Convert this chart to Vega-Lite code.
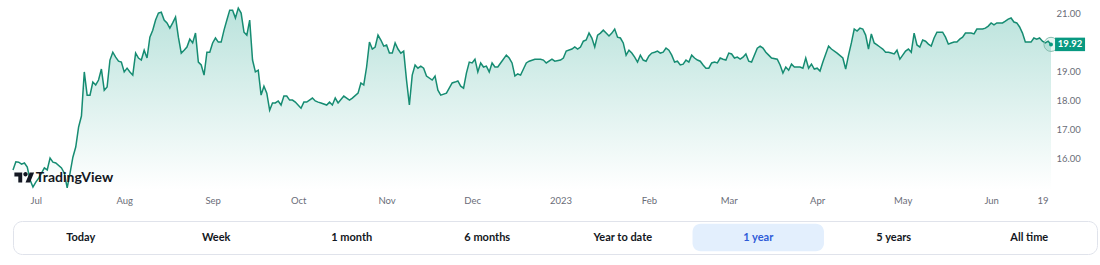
{
  "$schema": "https://vega.github.io/schema/vega-lite/v6.json",
  "padding": {"left": 10, "top": 0, "right": 0, "bottom": 0},
  "background": "white",
  "spacing": 15,
  "config": {"view": {"stroke": null}, "font": "Lato", "axis": {"labelFont": "Lato"}},
  "datasets": {
    "prices": [
      {"d":"2022-06-23","p":15.59},{"d":"2022-06-24","p":15.87},{"d":"2022-06-25","p":15.86},{"d":"2022-06-26","p":15.79},{"d":"2022-06-27","p":15.83},{"d":"2022-06-28","p":15.69},{"d":"2022-06-29","p":15.24},{"d":"2022-06-30","p":15.00},
      {"d":"2022-07-01","p":15.17},{"d":"2022-07-02","p":15.31},{"d":"2022-07-03","p":15.48},{"d":"2022-07-04","p":15.66},{"d":"2022-07-05","p":15.59},{"d":"2022-07-06","p":16.00},{"d":"2022-07-07","p":15.86},{"d":"2022-07-08","p":15.83},{"d":"2022-07-10","p":15.66},{"d":"2022-07-11","p":15.48},{"d":"2022-07-12","p":14.97},{"d":"2022-07-13","p":15.48},{"d":"2022-07-14","p":16.03},{"d":"2022-07-15","p":16.38},{"d":"2022-07-16","p":17.07},{"d":"2022-07-17","p":17.45},{"d":"2022-07-18","p":18.97},{"d":"2022-07-19","p":18.17},{"d":"2022-07-20","p":18.17},{"d":"2022-07-21","p":18.62},{"d":"2022-07-22","p":18.52},{"d":"2022-07-23","p":18.69},{"d":"2022-07-24","p":19.07},{"d":"2022-07-25","p":18.34},{"d":"2022-07-26","p":18.45},{"d":"2022-07-27","p":19.38},{"d":"2022-07-28","p":19.65},{"d":"2022-07-29","p":19.48},{"d":"2022-07-30","p":19.34},{"d":"2022-07-31","p":19.31},
      {"d":"2022-08-01","p":18.97},{"d":"2022-08-02","p":19.10},{"d":"2022-08-03","p":18.97},{"d":"2022-08-04","p":18.86},{"d":"2022-08-05","p":19.62},{"d":"2022-08-06","p":19.45},{"d":"2022-08-07","p":19.38},{"d":"2022-08-08","p":19.72},{"d":"2022-08-09","p":19.45},{"d":"2022-08-10","p":20.17},{"d":"2022-08-11","p":20.41},{"d":"2022-08-12","p":20.76},{"d":"2022-08-13","p":21.00},{"d":"2022-08-14","p":21.03},{"d":"2022-08-15","p":20.76},{"d":"2022-08-16","p":20.66},{"d":"2022-08-17","p":20.48},{"d":"2022-08-18","p":20.66},{"d":"2022-08-19","p":20.86},{"d":"2022-08-20","p":20.17},{"d":"2022-08-21","p":19.62},{"d":"2022-08-22","p":19.72},{"d":"2022-08-23","p":19.83},{"d":"2022-08-24","p":20.10},{"d":"2022-08-25","p":19.97},{"d":"2022-08-26","p":20.31},{"d":"2022-08-27","p":19.31},{"d":"2022-08-28","p":19.21},{"d":"2022-08-29","p":18.86},{"d":"2022-08-30","p":19.65},{"d":"2022-08-31","p":19.65},
      {"d":"2022-09-01","p":19.97},{"d":"2022-09-02","p":20.14},{"d":"2022-09-03","p":20.00},{"d":"2022-09-04","p":20.00},{"d":"2022-09-05","p":20.41},{"d":"2022-09-06","p":20.76},{"d":"2022-09-07","p":21.10},{"d":"2022-09-08","p":21.10},{"d":"2022-09-09","p":20.83},{"d":"2022-09-10","p":21.17},{"d":"2022-09-11","p":21.00},{"d":"2022-09-12","p":20.34},{"d":"2022-09-13","p":20.24},{"d":"2022-09-14","p":20.76},{"d":"2022-09-15","p":19.38},{"d":"2022-09-16","p":18.97},{"d":"2022-09-17","p":19.03},{"d":"2022-09-18","p":18.17},{"d":"2022-09-19","p":18.48},{"d":"2022-09-20","p":18.24},{"d":"2022-09-21","p":17.65},{"d":"2022-09-22","p":17.90},{"d":"2022-09-23","p":17.90},{"d":"2022-09-24","p":17.97},{"d":"2022-09-25","p":17.83},{"d":"2022-09-26","p":18.14},{"d":"2022-09-27","p":18.14},{"d":"2022-09-28","p":18.00},{"d":"2022-09-29","p":18.00},{"d":"2022-09-30","p":17.93},
      {"d":"2022-10-02","p":17.72},{"d":"2022-10-03","p":17.93},{"d":"2022-10-04","p":17.93},{"d":"2022-10-06","p":18.07},{"d":"2022-10-07","p":17.97},{"d":"2022-10-08","p":17.93},{"d":"2022-10-09","p":17.90},{"d":"2022-10-11","p":17.83},{"d":"2022-10-12","p":17.93},{"d":"2022-10-13","p":17.83},{"d":"2022-10-14","p":18.07},{"d":"2022-10-15","p":17.90},{"d":"2022-10-17","p":18.14},{"d":"2022-10-18","p":18.07},{"d":"2022-10-19","p":18.00},{"d":"2022-10-20","p":18.07},{"d":"2022-10-22","p":18.24},{"d":"2022-10-23","p":18.59},{"d":"2022-10-24","p":18.52},{"d":"2022-10-25","p":19.14},{"d":"2022-10-26","p":20.00},{"d":"2022-10-27","p":19.76},{"d":"2022-10-28","p":19.83},{"d":"2022-10-29","p":20.24},{"d":"2022-10-30","p":20.07},{"d":"2022-10-31","p":19.86},
      {"d":"2022-11-01","p":19.90},{"d":"2022-11-02","p":19.62},{"d":"2022-11-03","p":19.62},{"d":"2022-11-04","p":19.97},{"d":"2022-11-05","p":19.76},{"d":"2022-11-06","p":19.62},{"d":"2022-11-07","p":19.69},{"d":"2022-11-08","p":18.69},{"d":"2022-11-09","p":17.83},{"d":"2022-11-10","p":18.86},{"d":"2022-11-11","p":19.21},{"d":"2022-11-12","p":19.10},{"d":"2022-11-13","p":19.17},{"d":"2022-11-14","p":19.10},{"d":"2022-11-15","p":18.83},{"d":"2022-11-17","p":18.69},{"d":"2022-11-18","p":18.83},{"d":"2022-11-19","p":18.34},{"d":"2022-11-20","p":18.17},{"d":"2022-11-22","p":18.24},{"d":"2022-11-24","p":18.59},{"d":"2022-11-25","p":18.62},{"d":"2022-11-26","p":18.66},{"d":"2022-11-27","p":18.48},{"d":"2022-11-28","p":18.41},{"d":"2022-11-29","p":18.93},{"d":"2022-11-30","p":19.31},
      {"d":"2022-12-01","p":19.28},{"d":"2022-12-02","p":19.41},{"d":"2022-12-03","p":18.97},{"d":"2022-12-04","p":19.28},{"d":"2022-12-05","p":19.14},{"d":"2022-12-06","p":19.17},{"d":"2022-12-07","p":18.97},{"d":"2022-12-08","p":19.28},{"d":"2022-12-09","p":19.14},{"d":"2022-12-10","p":19.14},{"d":"2022-12-11","p":19.28},{"d":"2022-12-13","p":19.55},{"d":"2022-12-14","p":19.45},{"d":"2022-12-15","p":19.28},{"d":"2022-12-16","p":18.83},{"d":"2022-12-17","p":18.90},{"d":"2022-12-18","p":18.86},{"d":"2022-12-19","p":19.07},{"d":"2022-12-20","p":19.28},{"d":"2022-12-21","p":19.34},{"d":"2022-12-23","p":19.41},{"d":"2022-12-25","p":19.41},{"d":"2022-12-26","p":19.38},{"d":"2022-12-27","p":19.28},{"d":"2022-12-29","p":19.41},{"d":"2022-12-30","p":19.34},
      {"d":"2023-01-01","p":19.38},{"d":"2023-01-02","p":19.45},{"d":"2023-01-03","p":19.69},{"d":"2023-01-05","p":19.76},{"d":"2023-01-06","p":19.83},{"d":"2023-01-07","p":19.76},{"d":"2023-01-08","p":19.83},{"d":"2023-01-09","p":20.03},{"d":"2023-01-10","p":20.07},{"d":"2023-01-11","p":20.31},{"d":"2023-01-12","p":20.14},{"d":"2023-01-13","p":19.83},{"d":"2023-01-14","p":20.24},{"d":"2023-01-15","p":20.31},{"d":"2023-01-16","p":20.41},{"d":"2023-01-17","p":20.31},{"d":"2023-01-18","p":20.21},{"d":"2023-01-19","p":20.31},{"d":"2023-01-20","p":20.45},{"d":"2023-01-21","p":20.17},{"d":"2023-01-22","p":20.14},{"d":"2023-01-23","p":19.97},{"d":"2023-01-24","p":19.55},{"d":"2023-01-25","p":19.72},{"d":"2023-01-26","p":19.62},{"d":"2023-01-27","p":19.48},{"d":"2023-01-28","p":19.31},{"d":"2023-01-29","p":19.55},{"d":"2023-01-30","p":19.38},{"d":"2023-01-31","p":19.34},
      {"d":"2023-02-01","p":19.52},{"d":"2023-02-02","p":19.62},{"d":"2023-02-03","p":19.65},{"d":"2023-02-04","p":19.69},{"d":"2023-02-05","p":19.62},{"d":"2023-02-06","p":19.65},{"d":"2023-02-07","p":19.79},{"d":"2023-02-08","p":19.72},{"d":"2023-02-09","p":19.55},{"d":"2023-02-10","p":19.31},{"d":"2023-02-11","p":19.34},{"d":"2023-02-12","p":19.21},{"d":"2023-02-13","p":19.24},{"d":"2023-02-14","p":19.38},{"d":"2023-02-15","p":19.31},{"d":"2023-02-16","p":19.55},{"d":"2023-02-17","p":19.45},{"d":"2023-02-18","p":19.38},{"d":"2023-02-19","p":19.34},{"d":"2023-02-20","p":19.21},{"d":"2023-02-21","p":19.10},{"d":"2023-02-22","p":19.10},{"d":"2023-02-23","p":19.28},{"d":"2023-02-24","p":19.31},{"d":"2023-02-25","p":19.28},{"d":"2023-02-26","p":19.45},{"d":"2023-02-27","p":19.41},{"d":"2023-02-28","p":19.38},
      {"d":"2023-03-01","p":19.62},{"d":"2023-03-02","p":19.59},{"d":"2023-03-03","p":19.45},{"d":"2023-03-04","p":19.48},{"d":"2023-03-05","p":19.41},{"d":"2023-03-06","p":19.48},{"d":"2023-03-07","p":19.59},{"d":"2023-03-08","p":19.34},{"d":"2023-03-09","p":19.31},{"d":"2023-03-11","p":19.79},{"d":"2023-03-12","p":19.86},{"d":"2023-03-13","p":19.79},{"d":"2023-03-14","p":19.65},{"d":"2023-03-15","p":19.55},{"d":"2023-03-16","p":19.45},{"d":"2023-03-18","p":19.41},{"d":"2023-03-19","p":19.21},{"d":"2023-03-20","p":18.93},{"d":"2023-03-21","p":19.14},{"d":"2023-03-22","p":19.03},{"d":"2023-03-23","p":19.24},{"d":"2023-03-24","p":19.14},{"d":"2023-03-26","p":19.14},{"d":"2023-03-27","p":19.10},{"d":"2023-03-28","p":19.45},{"d":"2023-03-29","p":19.10},{"d":"2023-03-30","p":19.24},{"d":"2023-03-31","p":19.07},
      {"d":"2023-04-01","p":19.10},{"d":"2023-04-02","p":19.00},{"d":"2023-04-03","p":19.31},{"d":"2023-04-05","p":19.86},{"d":"2023-04-06","p":19.76},{"d":"2023-04-08","p":19.62},{"d":"2023-04-10","p":19.45},{"d":"2023-04-11","p":19.07},{"d":"2023-04-12","p":19.55},{"d":"2023-04-13","p":19.97},{"d":"2023-04-14","p":20.45},{"d":"2023-04-15","p":20.38},{"d":"2023-04-16","p":20.48},{"d":"2023-04-17","p":20.45},{"d":"2023-04-18","p":20.24},{"d":"2023-04-19","p":19.76},{"d":"2023-04-20","p":20.28},{"d":"2023-04-21","p":19.97},{"d":"2023-04-22","p":19.90},{"d":"2023-04-23","p":19.83},{"d":"2023-04-24","p":19.76},{"d":"2023-04-25","p":19.65},{"d":"2023-04-26","p":19.65},{"d":"2023-04-27","p":19.62},{"d":"2023-04-28","p":19.59},{"d":"2023-04-29","p":19.72},{"d":"2023-04-30","p":19.41},
      {"d":"2023-05-01","p":19.55},{"d":"2023-05-02","p":19.69},{"d":"2023-05-03","p":19.76},{"d":"2023-05-04","p":19.65},{"d":"2023-05-05","p":20.31},{"d":"2023-05-06","p":19.90},{"d":"2023-05-07","p":19.83},{"d":"2023-05-08","p":20.07},{"d":"2023-05-09","p":20.03},{"d":"2023-05-10","p":19.93},{"d":"2023-05-11","p":19.86},{"d":"2023-05-12","p":20.14},{"d":"2023-05-13","p":20.34},{"d":"2023-05-15","p":20.34},{"d":"2023-05-16","p":20.17},{"d":"2023-05-17","p":19.93},{"d":"2023-05-18","p":19.97},{"d":"2023-05-19","p":20.00},{"d":"2023-05-20","p":20.00},{"d":"2023-05-21","p":20.10},{"d":"2023-05-22","p":20.17},{"d":"2023-05-23","p":20.31},{"d":"2023-05-24","p":20.31},{"d":"2023-05-25","p":20.31},{"d":"2023-05-26","p":20.28},{"d":"2023-05-27","p":20.45},{"d":"2023-05-29","p":20.45},{"d":"2023-05-30","p":20.48},{"d":"2023-05-31","p":20.55},
      {"d":"2023-06-01","p":20.66},{"d":"2023-06-02","p":20.59},{"d":"2023-06-03","p":20.66},{"d":"2023-06-05","p":20.66},{"d":"2023-06-06","p":20.72},{"d":"2023-06-07","p":20.79},{"d":"2023-06-08","p":20.83},{"d":"2023-06-09","p":20.69},{"d":"2023-06-10","p":20.66},{"d":"2023-06-11","p":20.52},{"d":"2023-06-12","p":20.31},{"d":"2023-06-13","p":20.00},{"d":"2023-06-15","p":20.00},{"d":"2023-06-16","p":20.14},{"d":"2023-06-17","p":20.10},{"d":"2023-06-18","p":20.14},{"d":"2023-06-19","p":20.03},{"d":"2023-06-20","p":19.97},{"d":"2023-06-21","p":20.03},{"d":"2023-06-22","p":19.92}
    ],
    "buttons": [
      {"label":"Today","active":false},{"label":"Week","active":false},{"label":"1 month","active":false},{"label":"6 months","active":false},
      {"label":"Year to date","active":false},{"label":"1 year","active":true},{"label":"5 years","active":false},{"label":"All time","active":false}
    ]
  },
  "vconcat": [
    {
      "width": 1038,
      "height": 190,
      "data": {"name": "prices"},
      "encoding": {
        "x": {
          "field": "d", "type": "temporal",
          "scale": {"type": "utc", "domain": [{"year":2022,"month":6,"date":23,"utc":true},{"year":2023,"month":6,"date":22,"utc":true}]},
          "axis": {
            "title": null, "grid": false, "ticks": false, "domain": false,
            "labelPadding": 5, "labelFontSize": 9.5, "labelColor": "#6a6d78",
            "labelFlush": false, "labelOverlap": false,
            "values": [
              {"year":2022,"month":7,"date":1,"utc":true},{"year":2022,"month":8,"date":1,"utc":true},{"year":2022,"month":9,"date":1,"utc":true},
              {"year":2022,"month":10,"date":1,"utc":true},{"year":2022,"month":11,"date":1,"utc":true},{"year":2022,"month":12,"date":1,"utc":true},
              {"year":2023,"month":1,"date":1,"utc":true},{"year":2023,"month":2,"date":1,"utc":true},{"year":2023,"month":3,"date":1,"utc":true},
              {"year":2023,"month":4,"date":1,"utc":true},{"year":2023,"month":5,"date":1,"utc":true},{"year":2023,"month":6,"date":1,"utc":true},
              {"year":2023,"month":6,"date":19,"utc":true}
            ],
            "labelExpr": "utcdate(datum.value) != 1 ? utcFormat(datum.value, '%-d') : (utcmonth(datum.value) == 0 ? utcFormat(datum.value, '%Y') : utcFormat(datum.value, '%b'))"
          }
        },
        "y": {
          "field": "p", "type": "quantitative",
          "scale": {"domain": [14.9, 21.45], "nice": false, "zero": false},
          "axis": {
            "orient": "right", "title": null, "grid": false, "ticks": false, "domain": false,
            "values": [16, 17, 18, 19, 21], "format": ".2f",
            "labelPadding": 5, "labelFontSize": 9.5, "labelColor": "#6a6d78"
          }
        }
      },
      "layer": [
        {
          "mark": {
            "type": "area",
            "color": {"gradient": "linear", "x1": 0, "y1": 0, "x2": 0, "y2": 1,
              "stops": [{"offset": 0, "color": "rgba(8,153,129,0.28)"}, {"offset": 1, "color": "rgba(8,153,129,0.0)"}]}
          },
          "encoding": {"y2": {"datum": 14.9}}
        },
        {"mark": {"type": "line", "color": "#168c72", "strokeWidth": 1.5}},
        {
          "transform": [{"filter": "time(datum.d) == utc(2023,5,22)"}],
          "mark": {"type": "point", "shape": "circle", "filled": true, "size": 200, "fill": "#089981", "fillOpacity": 0.1, "stroke": "#7fb8aa", "strokeWidth": 1, "strokeOpacity": 0.9}
        },
        {
          "transform": [{"filter": "time(datum.d) == utc(2023,5,22)"}],
          "mark": {"type": "point", "shape": "circle", "filled": true, "size": 16, "fill": "#089981", "opacity": 1}
        },
        {
          "transform": [{"filter": "time(datum.d) == utc(2023,5,22)"}],
          "mark": {"type": "point", "shape": "M0.27,-0.45H2.27V0.45H0.27Z", "filled": true, "size": 900, "fill": "#089981", "opacity": 1, "strokeWidth": 0}
        },
        {
          "transform": [{"filter": "time(datum.d) == utc(2023,5,22)"}],
          "mark": {"type": "text", "dx": 19, "color": "white", "fontWeight": "bold", "fontSize": 9.5, "font": "Lato"},
          "encoding": {"text": {"field": "p", "type": "quantitative", "format": ".2f"}}
        },
        {
          "transform": [{"filter": "time(datum.d) == utc(2022,5,27)"}],
          "mark": {"type": "point", "shape": "M-0.22,0.44H-0.61V-0.17H-1V-0.56H-0.22ZM0.56,0.44L0.11,0.44L0.53,-0.56L0.97,-0.56ZM-0.11,-0.39a0.22,0.22 0 1,0 0.44,0a0.22,0.22 0 1,0 -0.44,0Z", "filled": true, "size": 400, "fill": "#131722", "opacity": 1, "strokeWidth": 0},
          "encoding": {"y": {"datum": 15.31, "type": "quantitative"}}
        },
        {
          "transform": [{"filter": "time(datum.d) == utc(2022,6,1)"}],
          "mark": {"type": "text", "text": "TradingView", "align": "left", "baseline": "middle", "font": "Lato", "fontWeight": "bold", "fontSize": 14, "color": "#131722"},
          "encoding": {"y": {"datum": 15.31, "type": "quantitative"}}
        }
      ]
    },
    {
      "width": 1084,
      "height": 33,
      "view": {"stroke": "#e0e3eb", "strokeWidth": 1, "cornerRadius": 9, "fill": "white"},
      "data": {"name": "buttons"},
      "encoding": {
        "x": {"field": "label", "type": "nominal", "sort": ["Today", "Week", "1 month", "6 months", "Year to date", "1 year", "5 years", "All time"], "axis": null, "scale": {"paddingInner": 0.03, "paddingOuter": 0.015}},
        "y": {"datum": "bar", "type": "nominal", "axis": null, "scale": {"paddingOuter": 0.1}}
      },
      "layer": [
        {
          "transform": [{"filter": "datum.active"}],
          "mark": {"type": "rect", "fill": "#e3effd", "cornerRadius": 8}
        },
        {
          "mark": {"type": "text", "font": "Lato", "fontWeight": "bold", "fontSize": 11},
          "encoding": {
            "text": {"field": "label"},
            "color": {"condition": {"test": "datum.active", "value": "#2f5bd8"}, "value": "#131722"}
          }
        }
      ]
    }
  ]
}
